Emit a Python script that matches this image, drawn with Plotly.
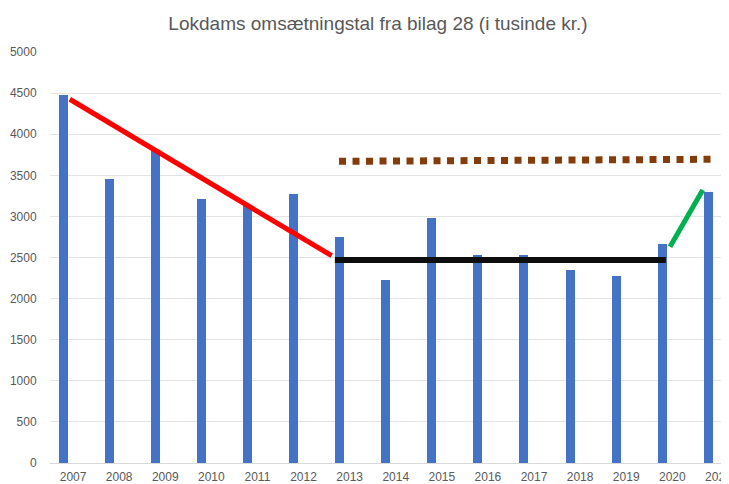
import plotly.graph_objects as go

years = [2007, 2008, 2009, 2010, 2011, 2012, 2013, 2014, 2015, 2016, 2017, 2018, 2019, 2020, 2021]
revenue = [4480, 3460, 3790, 3210, 3140, 3270, 2750, 2230, 2980, 2530, 2530, 2350, 2280, 2670, 3300]

red_x = [2006.93, 2012.61]
red_y = [4425, 2522]
black_x = [2012.68, 2019.86]
black_y = [2470, 2470]
brown_x = [2012.77, 2020.85]
brown_y = [3670, 3695]
green_x = [2019.95, 2020.66]
green_y = [2631, 3321]

title_text = "Lokdams omsætningstal fra bilag 28 (i tusinde kr.)"
y_ticks = [0, 500, 1000, 1500, 2000, 2500, 3000, 3500, 4000, 4500, 5000]

fig = go.Figure()
fig.add_trace(go.Bar(x=years, y=revenue, width=0.195, offset=-0.315,
                     marker=dict(color="#4472C4", line=dict(width=0)), showlegend=False))
fig.add_trace(go.Scatter(x=red_x, y=red_y, mode="lines",
                         line=dict(color="#FF0000", width=5), showlegend=False))
fig.add_trace(go.Scatter(x=black_x, y=black_y, mode="lines",
                         line=dict(color="#0D0D0D", width=6), showlegend=False))
fig.add_trace(go.Scatter(x=brown_x, y=brown_y, mode="lines",
                         line=dict(color="#843C0C", width=7, dash="7px,6.5px"), showlegend=False))
fig.add_trace(go.Scatter(x=green_x, y=green_y, mode="lines",
                         line=dict(color="#00B050", width=5), showlegend=False))

# page body has an 8px default margin; figure sized to fill the remaining window
fig.update_layout(
    width=721, height=476,
    margin=dict(l=42, r=0, t=44, b=21),
    paper_bgcolor="white", plot_bgcolor="white",
    font=dict(family="Liberation Sans, Arial, sans-serif", color="#595959", size=12),
    title=dict(text=title_text, x=370/721, xanchor="center", y=1 - 15/476, yanchor="middle",
               font=dict(size=19, color="#595959", family="Liberation Sans, Arial, sans-serif")),
    bargap=0,
)
fig.update_xaxes(
    range=[2006.5, 2021.23], tickvals=years, ticktext=[str(y) for y in years],
    showgrid=False, zeroline=False, showline=True, linecolor="#D9D9D9", linewidth=1,
    ticks="outside", ticklen=3, tickcolor="rgba(0,0,0,0)", automargin=False,
    ticklabeloverflow="allow",
    tickfont=dict(size=12, color="#595959"),
)
fig.update_yaxes(
    range=[0, 5000], tickvals=y_ticks, showgrid=True, gridcolor="#E4E4E4", gridwidth=1,
    zeroline=False, showline=False, ticks="outside", ticklen=10, tickcolor="rgba(0,0,0,0)",
    automargin=False, tickfont=dict(size=12, color="#595959"),
)

fig.write_html("out.html")
